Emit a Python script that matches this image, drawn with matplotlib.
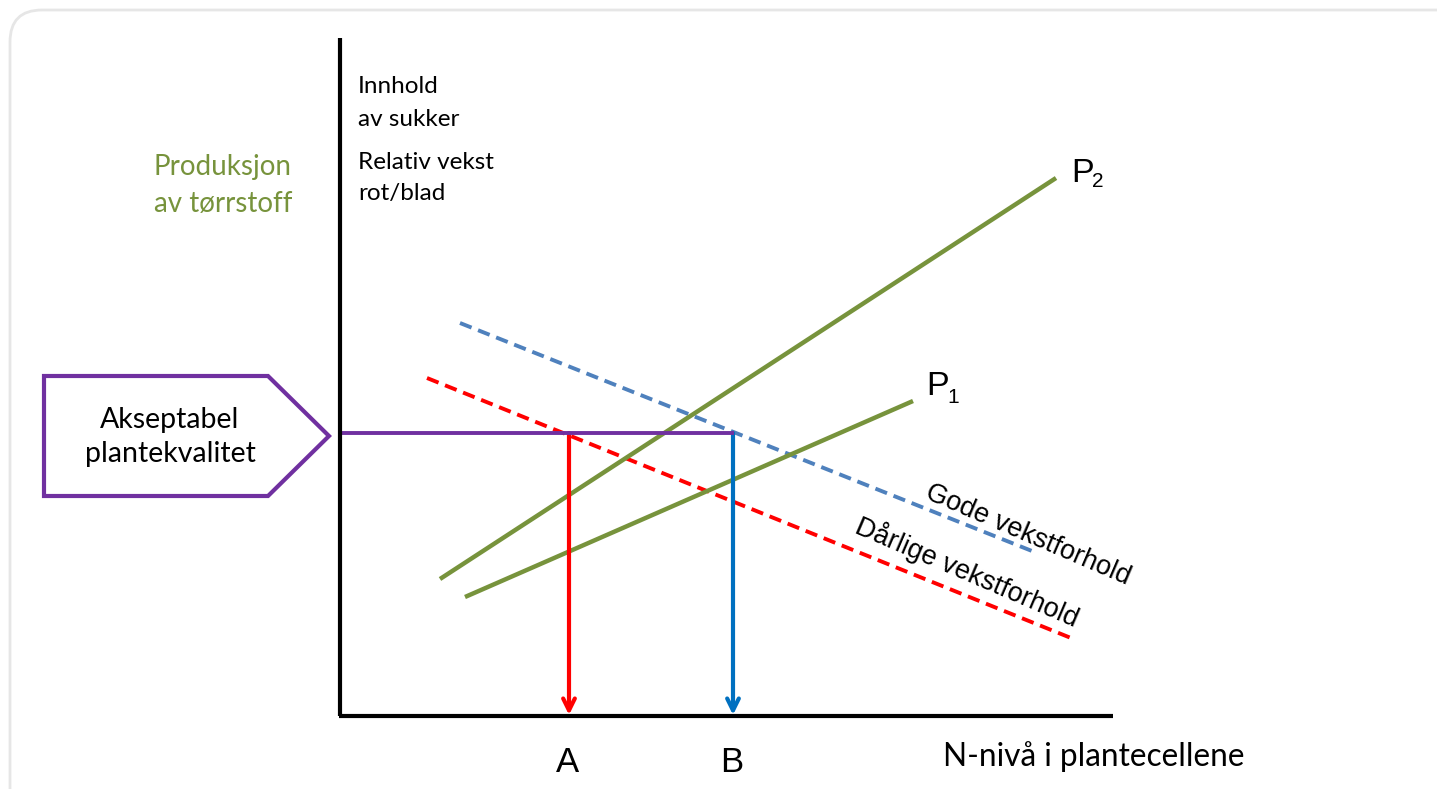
import matplotlib.pyplot as plt
from matplotlib.patches import FancyBboxPatch, Polygon
import numpy as np

W, H = 1437, 789

# diagram geometry in picture units (x right, y down)
axis_origin = (340, 716)
axis_top = 38
axis_right = 1113

p2_x = [440, 1056]
p2_y = [579, 178]
p1_x = [465, 913]
p1_y = [597, 401]
gode_x = [460, 1037]
gode_y = [323, 553]
darlig_x = [427, 1071]
darlig_y = [378, 638]

quality_y = 433
a_x = 569
b_x = 733
pentagon_x = [44, 268, 329, 268, 44]
pentagon_y = [376, 376, 436, 496, 496]

green = "#77933c"
purple = "#7030a0"
blue_dash = "#4f81bd"
blue_arrow = "#0070c0"
red = "#ff0000"

calibri = ["Lato", "DejaVu Sans"]
arial = ["Liberation Sans", "DejaVu Sans"]

fig = plt.figure(figsize=(W / 100, H / 100), dpi=100)
ax = fig.add_axes([0, 0, 1, 1])
ax.set_xlim(0, W)
ax.set_ylim(H, 0)
ax.axis("off")

# card frame
frame = FancyBboxPatch((10, 10), 1460, 820, boxstyle="round,pad=0,rounding_size=32",
                       fc="white", ec="#e6e6e6", lw=2)
ax.add_patch(frame)

# axes
ox, oy = axis_origin
ax.plot([ox, ox], [axis_top, oy], color="black", lw=3, solid_capstyle="butt", zorder=4)
ax.plot([ox - 1, axis_right], [oy, oy], color="black", lw=3, solid_capstyle="butt", zorder=4)

# curves
ax.plot(gode_x, gode_y, color=blue_dash, lw=2.8, dashes=(3.2, 1.8), zorder=2)
ax.plot(darlig_x, darlig_y, color=red, lw=2.8, dashes=(3.2, 1.8), zorder=2)
ax.plot(p2_x, p2_y, color=green, lw=3.2, solid_capstyle="butt", zorder=2)
ax.plot(p1_x, p1_y, color=green, lw=3.2, solid_capstyle="butt", zorder=2)

# arrows down to the N axis
for x, c in [(a_x, red), (b_x, blue_arrow)]:
    ax.annotate("", xy=(x, oy - 1), xytext=(x, quality_y),
                arrowprops=dict(arrowstyle="->,head_length=0.85,head_width=0.42",
                                color=c, lw=3, shrinkA=0, shrinkB=0), zorder=3)

# quality level
ax.plot([ox, b_x + 1], [quality_y, quality_y], color=purple, lw=2.8,
        solid_capstyle="butt", zorder=3.5)
ax.add_patch(Polygon(np.column_stack([pentagon_x, pentagon_y]), closed=True,
                     fc="white", ec=purple, lw=3, joinstyle="miter"))
ax.text(170, 428, "Akseptabel", ha="center", va="baseline", fontsize=20.5, family=calibri)
ax.text(170, 462, "plantekvalitet", ha="center", va="baseline", fontsize=20.5, family=calibri)

# labels
ax.text(358, 93, "Innhold", fontsize=17.5, family=calibri, va="baseline")
ax.text(358, 126, "av sukker", fontsize=17.5, family=calibri, va="baseline")
ax.text(358, 169, "Relativ vekst", fontsize=17.5, family=calibri, va="baseline")
ax.text(358, 200, "rot/blad", fontsize=17.5, family=calibri, va="baseline")
ax.text(292, 175, "Produksjon", fontsize=20, family=calibri, va="baseline",
        ha="right", color=green)
ax.text(292, 212, "av tørrstoff", fontsize=20, family=calibri, va="baseline",
        ha="right", color=green)

ax.text(1071, 182, "P", fontsize=24.5, family=arial, va="baseline")
ax.text(1092, 187, "2", fontsize=15, family=arial, va="baseline")
ax.text(926, 395, "P", fontsize=24.5, family=arial, va="baseline")
ax.text(947, 403, "1", fontsize=15, family=arial, va="baseline")

ax.text(568, 772, "A", fontsize=25, family=arial, ha="center", va="baseline")
ax.text(732, 772, "B", fontsize=25, family=arial, ha="center", va="baseline")
ax.text(943, 766, "N-nivå i plantecellene", fontsize=22.8, family=calibri, va="baseline")

ang = -np.degrees(np.arctan2(gode_y[1] - gode_y[0], gode_x[1] - gode_x[0])) - 1.5
ax.text(1028, 535, "Gode vekstforhold", fontsize=19.5, family=arial, rotation=ang,
        rotation_mode="anchor", ha="center", va="center")
ax.text(967, 572, "Dårlige vekstforhold", fontsize=19.5, family=arial, rotation=ang,
        rotation_mode="anchor", ha="center", va="center")

fig.savefig("out.png", dpi=100)
